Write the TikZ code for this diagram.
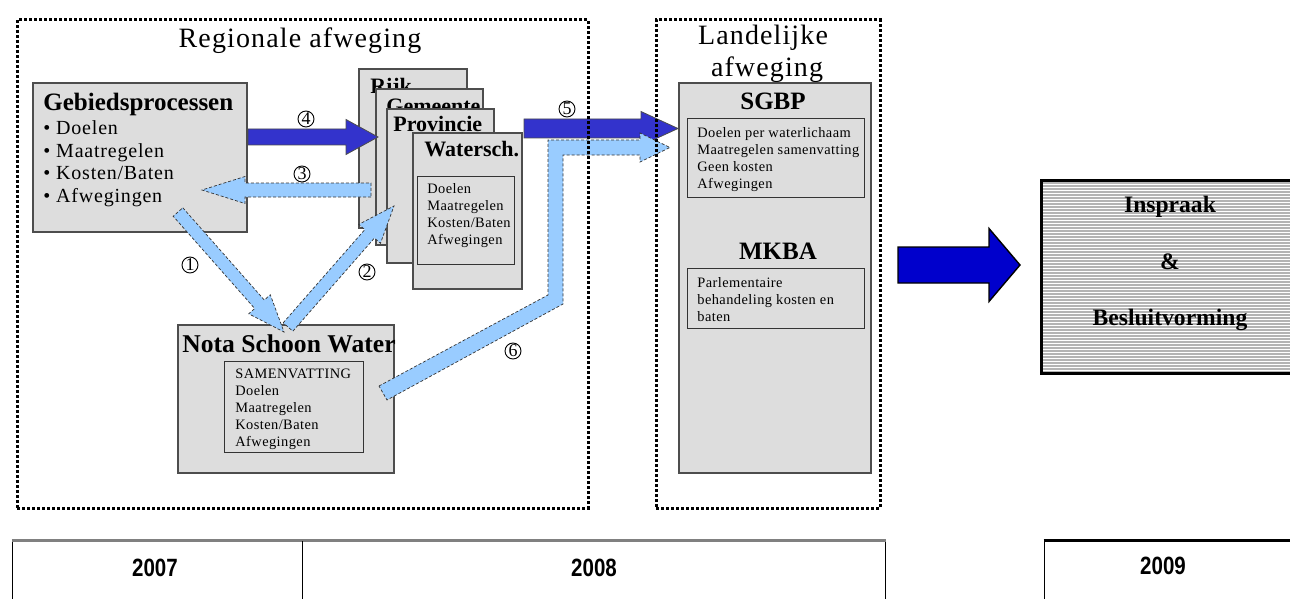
\documentclass[tikz,border=0pt]{standalone}
\usepackage{fontspec}
\setmainfont{Liberation Serif}
\newfontfamily\spacedfont[LetterSpace=4]{Liberation Serif}
\newfontfamily\smallspaced[LetterSpace=3]{Liberation Serif}
\newfontfamily\yearfont{Liberation Sans}
\usetikzlibrary{calc,fit}
\definecolor{boxgray}{HTML}{DDDDDD}
\definecolor{edgegray}{HTML}{4D4D4D}
\definecolor{darkblue}{HTML}{3333CC}
\definecolor{bigblue}{HTML}{0000CC}
\definecolor{lightblue}{HTML}{99CCFF}
\definecolor{stripegray}{HTML}{B4B4B4}
\newcommand\fatarrow[6]{%
  \coordinate (fac) at ($(#3)!#6!(#2)$);
  \draw[#1] ($(#2)!#4!90:(#3)$) -- ($(fac)!#4!90:(#3)$) -- ($(fac)!#5!90:(#3)$) -- (#3)
    -- ($(fac)!#5!-90:(#3)$) -- ($(fac)!#4!-90:(#3)$) -- ($(#2)!#4!-90:(#3)$) -- cycle;}
\begin{document}
\begin{tikzpicture}[x=0.5pt,y=-0.5pt,
  graybox/.style={draw=edgegray, fill=boxgray, line width=0.7pt, inner sep=0pt},
  innerbox/.style={draw=black!80, line width=0.5pt, inner sep=0pt},
  frame/.style={draw=black, line width=1.5pt, dash pattern=on 1.5pt off 1pt, inner sep=0pt},
  darkarr/.style={fill=darkblue, draw=black!70, line width=0.4pt},
  bigarr/.style={fill=bigblue, draw=black, line width=0.7pt},
  lightarr/.style={fill=lightblue, draw=black!80, line width=0.35pt, dash pattern=on 1.5pt off 1pt},
  numc/.style={circle, draw, line width=0.45pt, minimum size=8pt, inner sep=0pt, font=\fontsize{9}{9}\selectfont},
  txt/.style={inner sep=0pt},
  heading/.style={txt, anchor=base, font=\spacedfont\fontsize{14}{16}\selectfont},
  boldtitle/.style={txt, anchor=base, font=\bfseries\fontsize{12.5}{14}\selectfont},
  cardtitle/.style={txt, anchor=base west, font=\bfseries\fontsize{11}{12}\selectfont},
  smalltext/.style={txt, anchor=base west, align=left, font=\smallspaced\fontsize{7.2}{8.4}\selectfont},
  yeartext/.style={txt, xscale=0.82, font=\yearfont\bfseries\fontsize{12.5}{13}\selectfont}]
\useasboundingbox (0,0) rectangle (1290,599);
\clip (0,0) rectangle (1290,599);

% Regional: Gebiedsprocessen
\node[graybox, fit={(33,83) (247,232)}] (geb) {};
\node[txt, anchor=base west, font=\bfseries\fontsize{12.5}{14}\selectfont] (gebt) at (43,111) {Gebiedsprocessen};
\node[txt, anchor=base west, align=left, font=\spacedfont\fontsize{10}{11.2}\selectfont] (gebl) at (43,202)
  {• Doelen\\• Maatregelen\\• Kosten/Baten\\• Afwegingen};

% stacked cards
\node[graybox, fit={(359,69) (467,228)}] (rijk) {};
\node[cardtitle] (rijkt) at (370,94) {Rijk};
\node[graybox, fit={(376,89) (483,245)}] (gem) {};
\node[cardtitle] (gemt) at (386,113) {Gemeente};
\node[graybox, fit={(387,109) (494,263)}] (prov) {};
\node[cardtitle] (provt) at (393,132) {Provincie};
\node[graybox, fit={(413,133) (522,289)}] (wat) {};
\node[cardtitle] (watt) at (424,156) {Watersch.};
\node[innerbox, fit={(417,176) (514,264)}] (watin) {};
\node[smalltext] (watl) at (427,244) {Doelen\\Maatregelen\\Kosten/Baten\\Afwegingen};

% Nota Schoon Water
\node[graybox, fit={(178,325) (394,473)}] (nota) {};
\node[boldtitle, font=\bfseries\fontsize{12.8}{14}\selectfont] (notat) at (289,352) {Nota Schoon Water};
\node[innerbox, fit={(224,361) (363,452)}] (notain) {};
\node[smalltext, font=\smallspaced\fontsize{7.2}{8.5}\selectfont] (notal) at (235,446)
  {SAMENVATTING\\Doelen\\Maatregelen\\Kosten/Baten\\Afwegingen};

% Landelijke
\node[heading] (regt) at (300,48) {Regionale afweging};
\node[heading] (landt1) at (763,45) {Landelijke};
\node[heading] (landt2) at (767,77) {afweging};
\node[graybox, fit={(679,83) (871,473)}] (sgbp) {};
\node[boldtitle] (sgbpt) at (773,110) {SGBP};
\node[innerbox, fit={(687,119) (864,197)}] (sgbpin) {};
\node[smalltext] (sgbpl) at (697,188) {Doelen per waterlichaam\\Maatregelen samenvatting\\Geen kosten\\Afwegingen};
\node[boldtitle] (mkbat) at (778,259) {MKBA};
\node[innerbox, fit={(687,268) (864,328)}] (mkbain) {};
\node[smalltext] (mkbal) at (697,321) {Parlementaire\\behandeling kosten en\\baten};

% Inspraak box
\node[draw=black, fill=stripegray, line width=0.8pt, inner sep=0pt, fit={(1042,181) (1300,373)}] (insp) {};
\foreach \yy in {184,187,...,371} \draw[white, line width=0.5pt] (1043,\yy) -- (1299,\yy);
\draw[line width=0.8pt] (insp.north east) -- (insp.north west) -- (insp.south west) -- (insp.south east);
\node[boldtitle, font=\bfseries\fontsize{11.8}{13}\selectfont] (inspt1) at (1170,213) {Inspraak};
\node[boldtitle, font=\bfseries\fontsize{11.8}{13}\selectfont] (inspt2) at (1170,269) {\&};
\node[boldtitle, font=\bfseries\fontsize{11.8}{13}\selectfont] (inspt3) at (1170,325) {Besluitvorming};

% arrows
\coordinate (a4s) at (248,137); \coordinate (a4t) at (378,137);
\fatarrow{darkarr}{a4s}{a4t}{4pt}{8.75pt}{16pt}
\coordinate (a3s) at (371,190); \coordinate (a3t) at (202,190);
\fatarrow{lightarr}{a3s}{a3t}{3.5pt}{6.75pt}{21.5pt}
\coordinate (a1s) at (178,212); \coordinate (a1t) at (284,332);
\fatarrow{lightarr}{a1s}{a1t}{3.2pt}{7.2pt}{18.5pt}
\coordinate (a2s) at (288,327); \coordinate (a2t) at (394,206);
\fatarrow{lightarr}{a2s}{a2t}{3.2pt}{7.2pt}{18.5pt}
\coordinate (a5s) at (524,128.5); \coordinate (a5t) at (678,128.5);
\fatarrow{darkarr}{a5s}{a5t}{4.75pt}{8.5pt}{18.5pt}
\draw[lightarr] (379,386) -- (548,295) -- (548,140) -- (640,140) -- (640,133) -- (670,147.5)
  -- (640,162) -- (640,155) -- (563,155) -- (563,304) -- (387,400) -- cycle;
\coordinate (bas) at (898,265); \coordinate (bat) at (1020,265);
\fatarrow{bigarr}{bas}{bat}{9pt}{18.25pt}{15.5pt}

% numbers
\node[numc] (n1) at (190,265) {1};
\node[numc] (n2) at (367,272) {2};
\node[numc] (n3) at (302,174) {3};
\node[numc] (n4) at (306,119) {4};
\node[numc] (n5) at (567,109) {5};
\node[numc] (n6) at (513,351) {6};

% dotted frames
\node[frame, fit={(17,20) (588,508)}] (regframe) {};
\node[frame, fit={(656,20) (880,508)}] (landframe) {};

% timeline
\node[draw=black, line width=0.5pt, inner sep=0pt, fit={(12,541) (885,615)}] (t1) {};
\draw[black!50, line width=1.2pt] (t1.north west) -- (t1.north east);
\draw[line width=0.5pt] (302,541) -- (302,615);
\node[yeartext] (y7) at (155,568) {2007};
\node[yeartext] (y8) at (594,568) {2008};
\node[draw=black, line width=0.5pt, inner sep=0pt, fit={(1044,541) (1300,615)}] (t2) {};
\draw[black, line width=1.2pt] (t2.north west) -- (t2.north east);
\node[yeartext] (y9) at (1163,566) {2009};
\end{tikzpicture}
\end{document}
